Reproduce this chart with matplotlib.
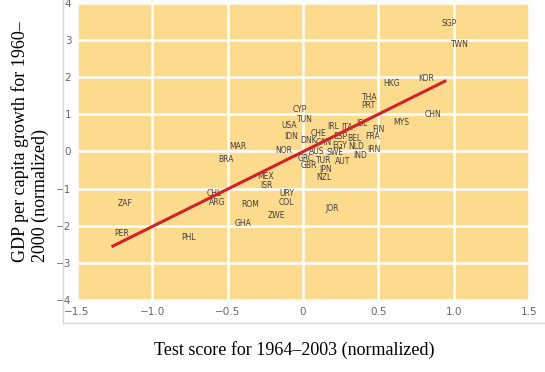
import matplotlib.pyplot as plt
from matplotlib.lines import Line2D

countries = ['SGP', 'TWN', 'KOR', 'HKG', 'THA', 'PRT', 'CHN', 'MYS', 'FIN', 'FRA',
             'IRN', 'CYP', 'TUN', 'USA', 'IDN', 'NOR', 'CHE', 'IRL', 'ITA', 'ISL',
             'DNK', 'CAN', 'ESP', 'BEL', 'EGY', 'NLD', 'AUS', 'SWE', 'IND', 'GRC',
             'TUR', 'AUT', 'GBR', 'JPN', 'NZL', 'MAR', 'BRA', 'MEX', 'ISR', 'URY',
             'COL', 'CHL', 'ARG', 'ROM', 'ZWE', 'GHA', 'ZAF', 'PER', 'PHL', 'JOR']
test_score = [0.97, 1.04, 0.82, 0.59, 0.44, 0.43, 0.86, 0.65, 0.50, 0.46,
              0.47, -0.02, 0.01, -0.09, -0.08, -0.13, 0.10, 0.20, 0.29, 0.39,
              0.04, 0.14, 0.25, 0.34, 0.24, 0.35, 0.09, 0.21, 0.38, 0.02,
              0.14, 0.26, 0.04, 0.15, 0.14, -0.43, -0.51, -0.25, -0.24, -0.11,
              -0.11, -0.59, -0.57, -0.35, -0.18, -0.40, -1.18, -1.20, -0.76, 0.19]
growth = [3.44, 2.87, 1.96, 1.82, 1.45, 1.24, 0.99, 0.77, 0.60, 0.39,
          0.05, 1.13, 0.86, 0.69, 0.41, 0.03, 0.49, 0.67, 0.64, 0.74,
          0.30, 0.25, 0.41, 0.34, 0.16, 0.14, 0.00, -0.02, -0.12, -0.18,
          -0.25, -0.27, -0.39, -0.48, -0.70, 0.14, -0.21, -0.68, -0.92, -1.14,
          -1.37, -1.14, -1.37, -1.44, -1.72, -1.93, -1.41, -2.20, -2.32, -1.53]

fit_x = [-1.27, 0.95]
fit_y = [-2.57, 1.91]

x_ticks = [-1.5, -1.0, -0.5, 0, 0.5, 1.0, 1.5]
x_tick_labels = ['\u22121.5', '\u22121.0', '\u22120.5', '0', '0.5', '1.0', '1.5']
y_ticks = [-4, -3, -2, -1, 0, 1, 2, 3, 4]
y_tick_labels = ['\u22124', '\u22123', '\u22122', '\u22121', '0', '1', '2', '3', '4']

narrow = ['Liberation Sans Narrow', 'DejaVu Sans']
serif = ['Liberation Serif', 'DejaVu Serif']

fig = plt.figure(figsize=(5.45, 3.72), dpi=100)
ax = fig.add_axes([0.141, 0.194, 0.830, 0.798])
ax.set_facecolor('#fddb8e')

for c, x, y in zip(countries, test_score, growth):
    ax.text(x, y, c, ha='center', va='center', fontsize=5.5,
            color='#3f3f3f', family=narrow)

ax.plot(fit_x, fit_y, color='#d22129', lw=2.2, solid_capstyle='butt', zorder=3)

ax.set_xlim(-1.5, 1.5)
ax.set_ylim(-4, 4)
ax.set_xticks(x_ticks)
ax.set_xticklabels(x_tick_labels, family=narrow)
ax.set_yticks(y_ticks)
ax.set_yticklabels(y_tick_labels, family=narrow)
ax.tick_params(length=0, labelsize=7.5, labelcolor='#666666')
ax.tick_params(axis='x', pad=5)
ax.tick_params(axis='y', pad=4)
ax.grid(True, color='white', lw=1.8)
ax.set_axisbelow(True)
for s in ax.spines.values():
    s.set_visible(False)

# light frame of the inserted graphic
fig.add_artist(Line2D([63 / 545, 63 / 545], [1, 1 - 323 / 372], color='#d9d9d9', lw=1))
fig.add_artist(Line2D([63 / 545, 1], [1 - 323 / 372, 1 - 323 / 372], color='#d9d9d9', lw=1))

fig.text(0.055, 0.62, 'GDP per capita growth for 1960\u2013\n2000 (normalized)',
         rotation=90, ha='center', va='center', fontsize=13, family=serif,
         multialignment='left', linespacing=1.15)
fig.text(0.54, 0.059, 'Test score for 1964\u20132003 (normalized)',
         ha='center', va='center', fontsize=13, family=serif)

fig.savefig('out.png', dpi=100)
